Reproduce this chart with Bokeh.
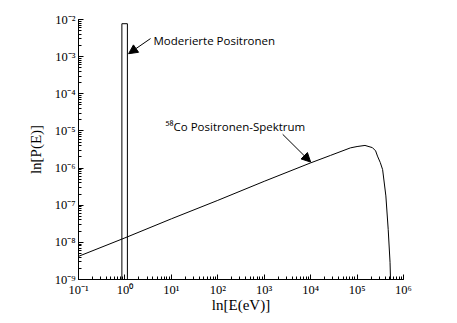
from bokeh.plotting import figure
from bokeh.models import CustomJSTickFormatter, Arrow, NormalHead, Label, LogTicker
from bokeh.embed import file_html
from bokeh.resources import INLINE

# 58Co positron spectrum
energy_eV = [1e-1, 1e0, 1e1, 1e2, 1e3, 1e4, 2.7e4, 7.2e4, 1.0e5, 1.48e5,
             2.14e5, 2.51e5, 2.75e5, 3.16e5, 3.55e5, 4.17e5, 4.68e5, 5.13e5, 5.25e5]
prob = [4.2e-9, 1.32e-8, 4.3e-8, 1.35e-7, 4.4e-7, 1.38e-6, 2.2e-6, 3.5e-6, 3.8e-6, 4.07e-6,
        3.55e-6, 2.9e-6, 2.1e-6, 1.41e-6, 9.1e-7, 1.78e-7, 2.24e-8, 2.9e-9, 1.0e-9]

# moderated positrons (narrow box around 1 eV)
mod_left = [0.86]
mod_right = [1.13]
mod_bottom = [1e-9]
mod_top = [7.7e-3]

x_limits = (1e-1, 1e6)
y_limits = (1e-9, 1e-2)

label_mod = "Moderierte Positronen"
label_co = "\u2075\u2078Co Positronen-Spektrum"
x_title = "ln[E(eV)]"
y_title = "ln[P(E)]"

p = figure(width=449, height=315, x_axis_type="log", y_axis_type="log",
           x_range=x_limits, y_range=y_limits,
           output_backend="svg", toolbar_location=None,
           min_border_left=78, min_border_right=46, min_border_top=19, min_border_bottom=35)
p.outline_line_color = None
p.grid.visible = False
p.background_fill_color = "white"
p.border_fill_color = "white"

fmt = CustomJSTickFormatter(code="""
const sup = {'-':'\u207b','0':'\u2070','1':'\u00b9','2':'\u00b2','3':'\u00b3','4':'\u2074','5':'\u2075','6':'\u2076','7':'\u2077','8':'\u2078','9':'\u2079'};
const e = Math.round(Math.log10(tick));
return '10' + String(e).split('').map(c => sup[c]).join('');
""")

for ax in (p.xaxis[0], p.yaxis[0]):
    ax.ticker = LogTicker(desired_num_ticks=8, num_minor_ticks=10)
    ax.formatter = fmt
    ax.major_tick_in = 5
    ax.major_tick_out = 0
    ax.minor_tick_in = 3
    ax.minor_tick_out = 0
    ax.axis_line_color = "black"
    ax.major_tick_line_color = "black"
    ax.minor_tick_line_color = "black"
    ax.major_label_text_font = "Liberation Serif"
    ax.major_label_text_font_size = "12.5px"
    ax.major_label_text_color = "black"
    ax.axis_label_text_font = "Liberation Serif"
    ax.axis_label_text_font_size = "15px"
    ax.axis_label_text_font_style = "normal"
    ax.axis_label_text_color = "black"
    ax.major_label_standoff = 3

p.yaxis.axis_label = y_title
p.yaxis.axis_label_standoff = 8
p.xaxis.axis_label = x_title
p.xaxis.axis_label_standoff = -3

p.quad(left=mod_left, right=mod_right, bottom=mod_bottom, top=mod_top,
       fill_color=None, line_color="black", line_width=1)
p.line(energy_eV, prob, line_color="black", line_width=1)

p.add_layout(Arrow(end=NormalHead(size=9, fill_color="black", line_color="black"),
                   x_start=3.56, y_start=3.07e-3, x_end=1.2, y_end=1.2e-3,
                   line_color="black", line_width=1))
p.add_layout(Arrow(end=NormalHead(size=9, fill_color="black", line_color="black"),
                   x_start=2.5e3, y_start=8.1e-6, x_end=1e4, y_end=1.45e-6,
                   line_color="black", line_width=1))

p.add_layout(Label(x=4.13, y=2.8e-3, text=label_mod, text_font="Open Sans",
                   text_font_size="11.5px", text_baseline="middle", text_color="black"))
p.add_layout(Label(x=7.5, y=1.33e-5, text=label_co, text_font="Open Sans",
                   text_font_size="11.5px", text_baseline="middle", text_color="black"))

open("out.html", "w").write(file_html(p, INLINE))
